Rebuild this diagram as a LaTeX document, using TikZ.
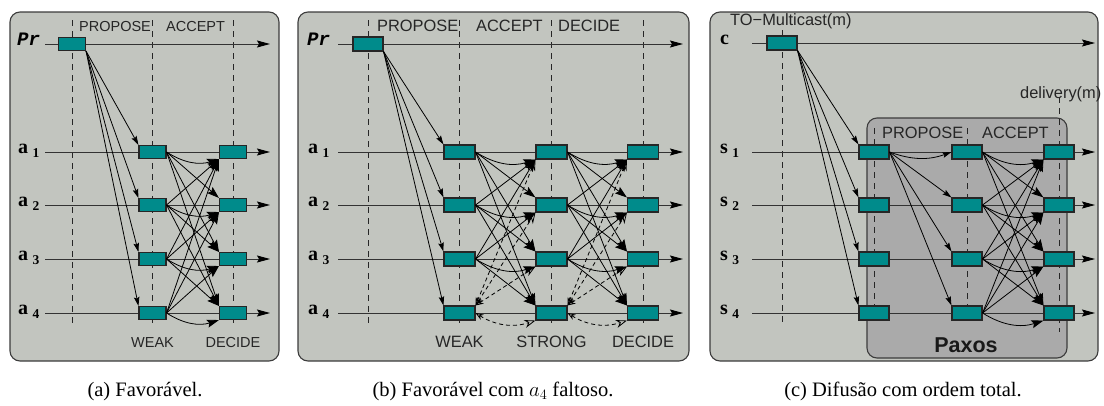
\documentclass[tikz,border=0pt]{standalone}
\usepackage{fontspec}
\setmainfont{Liberation Serif}
\newfontfamily\lsans{Liberation Sans}
\newfontfamily\lmono{Liberation Mono}
\usetikzlibrary{arrows.meta,calc}
\definecolor{panelbg}{RGB}{194,197,191}
\definecolor{paxbg}{RGB}{170,170,170}
\definecolor{boxteal}{RGB}{0,139,139}
\definecolor{edgegray}{RGB}{60,60,60}
\newcommand\rowsub[2]{#1\hspace{4.5pt}\raisebox{-4.5pt}{\fontsize{13.5}{14}\selectfont #2}}
\tikzset{
  panel/.style={draw=edgegray, line width=1.1pt, fill=panelbg, rounded corners=10pt},
  paxbox/.style={draw=edgegray, line width=1.1pt, fill=paxbg, rounded corners=10pt},
  proc/.style={draw=black!85, line width=1.1pt, fill=boxteal, minimum height=13pt, minimum width=27pt, inner sep=0pt},
  procb/.style={proc, minimum height=14pt, minimum width=31pt},
  timeline/.style={draw=black!80, line width=0.9pt, -{Stealth[length=13pt,width=7pt,inset=2pt,color=black]}},
  phase/.style={draw=black!85, line width=0.9pt, dash pattern=on 6pt off 5pt},
  msg/.style={draw=black, line width=0.8pt, -{Stealth[length=9pt,width=5.5pt,inset=1.5pt]}},
  vote/.style={draw=black, line width=0.8pt, -{Stealth[length=12pt,width=8pt,inset=2pt]}},
  fvote/.style={draw=black, line width=0.8pt, dash pattern=on 4pt off 3pt,
     {Stealth[open,length=8pt,width=6pt]}-{Stealth[open,length=11pt,width=8pt]}},
  laba/.style={font=\lsans\fontsize{14.5}{15}\selectfont, inner sep=0pt, text=black!85},
  labb/.style={font=\lsans\fontsize{16.4}{17}\selectfont, inner sep=0pt, text=black!85},
  rowlab/.style={font=\bfseries\fontsize{20}{20}\selectfont, inner sep=0pt, anchor=base west},
  prlab/.style={font=\lmono\bfseries\itshape\fontsize{19}{19}\selectfont, inner sep=0pt, anchor=base west},
  captext/.style={font=\fontsize{20.5}{21}\selectfont, inner sep=0pt, anchor=base},
}
\begin{document}
\begin{tikzpicture}[x=1pt,y=-1pt]
\useasboundingbox (0,0) rectangle (1104,405);

% ================= Panel (a) =================
\draw[panel] (10,12) rectangle (279,361);
\foreach \x in {72,152.5,233} \draw[phase] (\x,20) -- (\x,325);
\draw[timeline] (45,44) -- (270,44);
\foreach \y in {152,205,259,313} \draw[timeline] (45,\y) -- (270,\y);
\node[proc] (aP) at (72,44) {};
\foreach \i/\y in {1/152,2/205,3/259,4/313} {
  \node[proc] (aW\i) at (152.5,\y) {};
  \node[proc] (aD\i) at (233,\y) {};
  \node[rowlab] (aL\i) at (18,\y+1) {\rowsub{a}{\i}};
}
\node[prlab] (aPr) at (17,45) {Pr};
\node[laba, anchor=base west] (aT1) at (79,31) {PROPOSE};
\node[laba, anchor=base west] (aT2) at (166,31) {ACCEPT};
\node[laba, anchor=base] (aB1) at (152.5,347) {WEAK};
\node[laba, anchor=base] (aB2) at (233,347) {DECIDE};
\foreach \i in {1,...,4} \draw[msg] (aP.south east) -- (aW\i.north west);
\foreach \i in {1,...,4} {
  \foreach \j in {1,...,4} {
    \ifnum\i=\j
      \draw[vote] (aW\i.east) to[bend right=25] (aD\j.south west);
    \else\ifnum\i<\j
      \draw[vote] (aW\i.east) -- (aD\j.north west);
    \else
      \draw[vote] (aW\i.east) -- (aD\j.south west);
    \fi\fi
  }
}

% ================= Panel (b) =================
\draw[panel] (298,12) rectangle (689,361);
\foreach \x in {368,459.5,551.5,643} \draw[phase] (\x,20) -- (\x,325);
\draw[timeline] (338,44) -- (683,44);
\foreach \y in {152,205,259,313} \draw[timeline] (338,\y) -- (683,\y);
\node[procb, minimum width=30pt] (bP) at (368,44) {};
\foreach \i/\y in {1/152,2/205,3/259,4/313} {
  \node[procb] (bW\i) at (459.5,\y) {};
  \node[procb] (bS\i) at (551.5,\y) {};
  \node[procb] (bD\i) at (643,\y) {};
  \node[rowlab] (bL\i) at (308,\y+1) {\rowsub{a}{\i}};
}
\node[prlab] (bPr) at (307,45) {Pr};
\node[labb, anchor=base west] (bT1) at (377,31) {PROPOSE};
\node[labb, anchor=base west] (bT2) at (476,31) {ACCEPT};
\node[labb, anchor=base west] (bT3) at (558,31) {DECIDE};
\node[labb, anchor=base] (bB1) at (459.5,347) {WEAK};
\node[labb, anchor=base] (bB2) at (551.5,347) {STRONG};
\node[labb, anchor=base] (bB3) at (643,347) {DECIDE};
\foreach \i in {1,...,4} \draw[msg] (bP.south east) -- (bW\i.north west);
\foreach \F/\T in {bW/bS,bS/bD} {
  \foreach \i in {1,...,3} {
    \foreach \j in {1,...,4} {
      \ifnum\i=\j
        \draw[vote] (\F\i.east) to[bend right=25] (\T\j.south west);
      \else\ifnum\i<\j
        \draw[vote] (\F\i.east) -- (\T\j.north west);
      \else
        \draw[vote] (\F\i.east) -- (\T\j.south west);
      \fi\fi
    }
  }
  \foreach \j in {1,...,3} \draw[fvote] (\F4.north east) -- (\T\j.south west);
  \draw[fvote] (\F4.east) to[bend right=25] (\T4.south west);
}

% ================= Panel (c) =================
\draw[panel] (710,12) rectangle (1098,361);
\draw[paxbox] (867,118) rectangle (1067,358);
\draw[phase] (782,30) -- (782,325);
\foreach \x in {874,967} \draw[phase] (\x,128) -- (\x,325);
\draw[phase] (1059,97) -- (1059,332);
\draw[timeline] (752,43) -- (1095,43);
\foreach \y in {152,205,259,313} \draw[timeline] (752,\y) -- (1095,\y);
\node[procb, minimum width=30pt] (cC) at (782,43) {};
\foreach \i/\y in {1/152,2/205,3/259,4/313} {
  \node[procb, minimum width=30pt] (cA\i) at (874,\y) {};
  \node[procb, minimum width=30pt] (cB\i) at (967,\y) {};
  \node[procb, minimum width=30pt] (cD\i) at (1059,\y) {};
  \node[rowlab] (cL\i) at (720,\y+1) {\rowsub{s}{\i}};
}
\node[rowlab] (cLc) at (720,44) {c};
\node[labb, anchor=base west] (cT0) at (730,25) {TO{\char"2212}Multicast(m)};
\node[labb, anchor=base west] (cT3) at (1020,98) {delivery(m)};
\node[labb, anchor=base west] (cT1) at (882,138) {PROPOSE};
\node[labb, anchor=base west] (cT2) at (982,138) {ACCEPT};
\node[font=\lsans\bfseries\fontsize{21.5}{22}\selectfont, inner sep=0pt, anchor=base, text=black!90] (cPx) at (966,352) {Paxos};
\foreach \i in {1,...,4} \draw[msg] (cC.south east) -- (cA\i.north west);
\draw[msg] (cA1.east) to[bend right=20] (cB1.west);
\foreach \j in {2,3,4} \draw[msg] (cA1.east) -- (cB\j.north west);
\foreach \i in {1,...,4} {
  \foreach \j in {1,...,4} {
    \ifnum\i=\j
      \draw[vote] (cB\i.east) to[bend right=25] (cD\j.south west);
    \else\ifnum\i<\j
      \draw[vote] (cB\i.east) -- (cD\j.north west);
    \else
      \draw[vote] (cB\i.east) -- (cD\j.south west);
    \fi\fi
  }
}

% ================= Captions =================
\node[captext] (capa) at (145,396) {(a) Favorável.};
\node[captext] (capb) at (493,396) {(b) Favorável com $a_4$ faltoso.};
\node[captext] (capc) at (903,396) {(c) Difusão com ordem total.};
\end{tikzpicture}
\end{document}
